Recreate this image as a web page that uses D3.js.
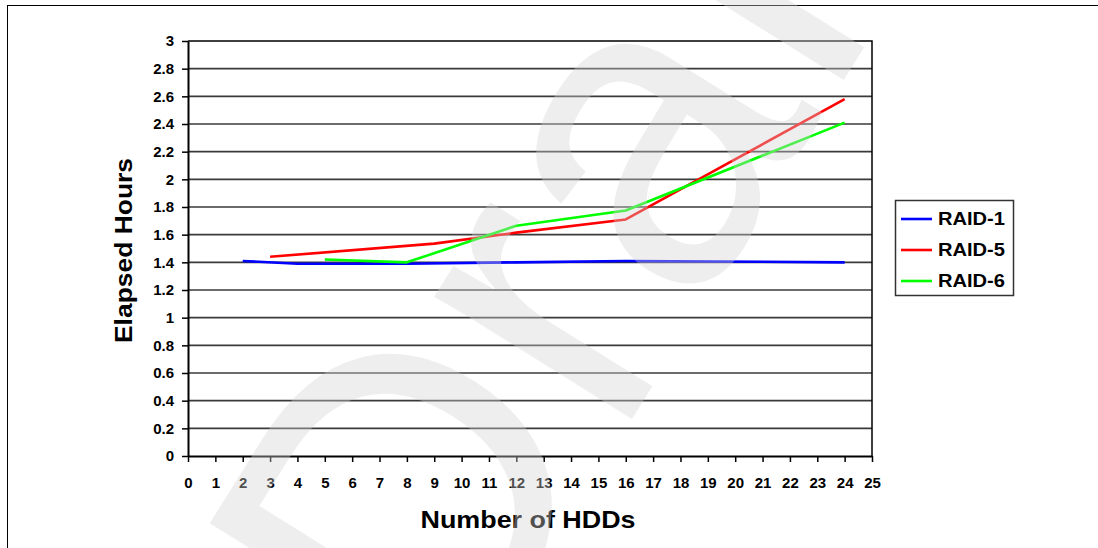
<!DOCTYPE html>
<html>
<head>
<meta charset="utf-8">
<script src="https://cdn.jsdelivr.net/npm/d3@7"></script>
<style>
  html, body { margin: 0; padding: 0; background: #fff; }
  svg { display: block; font-family: Arial, "Liberation Sans", sans-serif; }
</style>
</head>
<body>
<svg id="chart" width="1098" height="548"></svg>
<script>
// Elapsed rebuild time by number of drives in the array
const xTicks = d3.range(0, 26);
const yTicks = [0, 0.2, 0.4, 0.6, 0.8, 1, 1.2, 1.4, 1.6, 1.8, 2, 2.2, 2.4, 2.6, 2.8, 3];
const yTickLabels = ["0", "0.2", "0.4", "0.6", "0.8", "1", "1.2", "1.4", "1.6", "1.8", "2", "2.2", "2.4", "2.6", "2.8", "3"];

const raid1Drives = [2, 4, 8, 12, 16, 24];
const raid1Hours  = [1.41, 1.39, 1.39, 1.40, 1.41, 1.40];

const raid5Drives = [3, 9, 12, 16, 24];
const raid5Hours  = [1.44, 1.535, 1.615, 1.71, 2.58];

const raid6Drives = [5, 8, 12, 16, 24];
const raid6Hours  = [1.42, 1.40, 1.665, 1.775, 2.41];

const seriesNames = ["RAID-1", "RAID-5", "RAID-6"];
const seriesColors = ["#0000ff", "#ff0000", "#00ff00"];
const seriesData = [
  raid1Drives.map((d, i) => [d, raid1Hours[i]]),
  raid5Drives.map((d, i) => [d, raid5Hours[i]]),
  raid6Drives.map((d, i) => [d, raid6Hours[i]])
];

const svg = d3.select("#chart");

// outer frame
svg.append("rect")
  .attr("x", 7.5).attr("y", 5.5)
  .attr("width", 1200).attr("height", 600)
  .attr("fill", "#fff").attr("stroke", "#000").attr("stroke-width", 1);

const plot = { left: 188, right: 872, top: 41, bottom: 456 };
const x = d3.scaleLinear().domain([0, 25]).range([plot.left, plot.right]);
const y = d3.scaleLinear().domain([0, 3]).range([plot.bottom, plot.top]);

// horizontal gridlines
svg.append("g")
  .selectAll("line")
  .data(yTicks.filter(v => v > 0 && v < 3))
  .join("line")
  .attr("x1", plot.left).attr("x2", plot.right)
  .attr("y1", d => y(d)).attr("y2", d => y(d))
  .attr("stroke", "#3a3a3a").attr("stroke-width", 1.6);

// plot border (top and right)
svg.append("path")
  .attr("d", `M${plot.left},${y(3)}H${plot.right}V${plot.bottom}`)
  .attr("fill", "none").attr("stroke", "#000").attr("stroke-width", 1.5);

// y axis
const yAxis = svg.append("g")
  .attr("transform", `translate(${plot.left},0)`)
  .call(d3.axisLeft(y).tickValues(yTicks)
    .tickFormat((d, i) => yTickLabels[i]).tickSize(6).tickPadding(8).tickSizeOuter(0));
yAxis.select(".domain").attr("stroke", "#000").attr("stroke-width", 2);
yAxis.selectAll(".tick line").attr("stroke", "#000").attr("stroke-width", 1.5);
yAxis.selectAll("text")
  .attr("font-size", 15).attr("font-weight", "bold").attr("fill", "#000")
  .attr("font-family", "Arial, 'Liberation Sans', sans-serif");

// x axis
const xAxis = svg.append("g")
  .attr("transform", `translate(0,${plot.bottom})`)
  .call(d3.axisBottom(x).tickValues(xTicks).tickFormat(d3.format("d"))
    .tickSize(6).tickPadding(15).tickSizeOuter(0));
xAxis.select(".domain").attr("stroke", "#000").attr("stroke-width", 2);
xAxis.selectAll(".tick line").attr("stroke", "#000").attr("stroke-width", 1.5);
xAxis.selectAll("text")
  .attr("font-size", 15).attr("font-weight", "bold").attr("fill", "#000")
  .attr("font-family", "Arial, 'Liberation Sans', sans-serif");

// series lines
const line = d3.line().x(d => x(d[0])).y(d => y(d[1]));
svg.append("g")
  .selectAll("path")
  .data(seriesData)
  .join("path")
  .attr("d", line)
  .attr("fill", "none")
  .attr("stroke", (d, i) => seriesColors[i])
  .attr("stroke-width", 2.6)
  .attr("stroke-linejoin", "round");

// axis titles
svg.append("text")
  .attr("transform", `translate(132,${(plot.top + plot.bottom) / 2 + 2}) rotate(-90)`)
  .attr("text-anchor", "middle")
  .attr("font-size", 24).attr("font-weight", "bold")
  .attr("textLength", 185).attr("lengthAdjust", "spacingAndGlyphs")
  .text("Elapsed Hours");

svg.append("text")
  .attr("x", 528).attr("y", 528)
  .attr("text-anchor", "middle")
  .attr("font-size", 24).attr("font-weight", "bold")
  .attr("textLength", 215).attr("lengthAdjust", "spacingAndGlyphs")
  .text("Number of HDDs");

// legend
const legend = svg.append("g");
legend.append("rect")
  .attr("x", 895.5).attr("y", 200.5).attr("width", 118).attr("height", 95)
  .attr("fill", "#fff").attr("stroke", "#333").attr("stroke-width", 1.5);
const rowY = [219, 250, 281];
seriesNames.forEach((name, i) => {
  legend.append("line")
    .attr("x1", 901).attr("x2", 932)
    .attr("y1", rowY[i]).attr("y2", rowY[i])
    .attr("stroke", seriesColors[i]).attr("stroke-width", 2.6);
  legend.append("text")
    .attr("x", 938).attr("y", rowY[i]).attr("dy", "0.36em")
    .attr("font-size", 18).attr("font-weight", "bold")
    .attr("textLength", 67).attr("lengthAdjust", "spacingAndGlyphs")
    .text(name);
});

// translucent draft watermark laid over the page
svg.append("text")
  .attr("transform", "translate(700,310) rotate(-58)")
  .attr("text-anchor", "middle")
  .attr("font-size", 440)
  .attr("font-family", "'Liberation Sans', Arial, sans-serif")
  .attr("fill", "rgb(210,210,210)")
  .attr("fill-opacity", 0.38)
  .text("Draft");
</script>
</body>
</html>
